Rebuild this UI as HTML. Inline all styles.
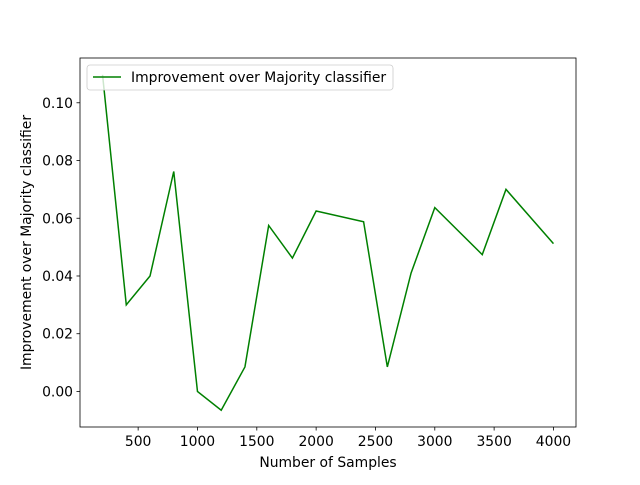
<!DOCTYPE html>
<html><head><meta charset="utf-8"><style>
body{margin:0;background:#fff;font-family:"Liberation Sans","DejaVu Sans",sans-serif}
</style></head><body>
<svg width="640" height="480" xmlns="http://www.w3.org/2000/svg" font-family="DejaVu Sans, Liberation Sans, sans-serif">
<g id="plot"></g>
</svg>
<script>
const xs=[200,400,600,800,1000,1200,1400,1600,1800,2000,2400,2600,2800,3000,3400,3600,4000];
const ys=[0.1097,0.030,0.040,0.0762,0.000,-0.0065,0.0085,0.0575,0.0462,0.0625,0.0588,0.0085,0.041,0.0637,0.0474,0.070,0.0512];
const xTicks=[500,1000,1500,2000,2500,3000,3500,4000];
const yTicks=[0,0.02,0.04,0.06,0.08,0.10];
const L=80,R=576,T=58,B=427;
const xmin=Math.min(...xs),xmax=Math.max(...xs),xm=(xmax-xmin)*0.05;
const ymin=Math.min(...ys),ymax=Math.max(...ys),ym=(ymax-ymin)*0.05;
const X=v=>L+(v-(xmin-xm))/((xmax+xm)-(xmin-xm))*(R-L);
const Y=v=>B-(v-(ymin-ym))/((ymax+ym)-(ymin-ym))*(B-T);
const NS="http://www.w3.org/2000/svg";
const FS=13.9;
const g=document.getElementById('plot');
function mk(t,a,txt){const e=document.createElementNS(NS,t);for(const k in a)e.setAttribute(k,a[k]);if(txt!=null)e.textContent=txt;g.appendChild(e);return e;}
let e=mk('polyline',{points:xs.map((x,i)=>X(x)+','+Y(ys[i])).join(' '),fill:'none',stroke:'#008000','stroke-width':1.5});


e=mk('rect',{x:L,y:T,width:R-L,height:B-T,fill:'none',stroke:'#000','stroke-width':0.8});


xTicks.forEach(t=>{const x=X(t);
e=mk('line',{x1:x,x2:x,y1:B,y2:B+3.5,stroke:'#000','stroke-width':0.8});


e=mk('text',{x:x,y:B+19,'text-anchor':'middle','font-size':FS},String(t));

});
yTicks.forEach(t=>{const y=Y(t);
e=mk('line',{x1:L-3.5,x2:L,y1:y,y2:y,stroke:'#000','stroke-width':0.8});


e=mk('text',{x:L-7,y:y+5,'text-anchor':'end','font-size':FS},t.toFixed(2));

});
e=mk('text',{x:(L+R)/2,y:467,'text-anchor':'middle','font-size':FS},'Number of Samples');


e=mk('text',{x:0,y:0,'text-anchor':'middle','font-size':FS,transform:`translate(31,${(T+B)/2}) rotate(-90)`},'Improvement over Majority classifier');


e=mk('rect',{x:87,y:65,width:306,height:25,rx:3,fill:'#fff','fill-opacity':0.8,stroke:'#ccc','stroke-width':0.8});


e=mk('line',{x1:93,x2:121,y1:77,y2:77,stroke:'#008000','stroke-width':1.5});


e=mk('text',{x:131,y:82,'font-size':FS},'Improvement over Majority classifier');


</script>
</body></html>
